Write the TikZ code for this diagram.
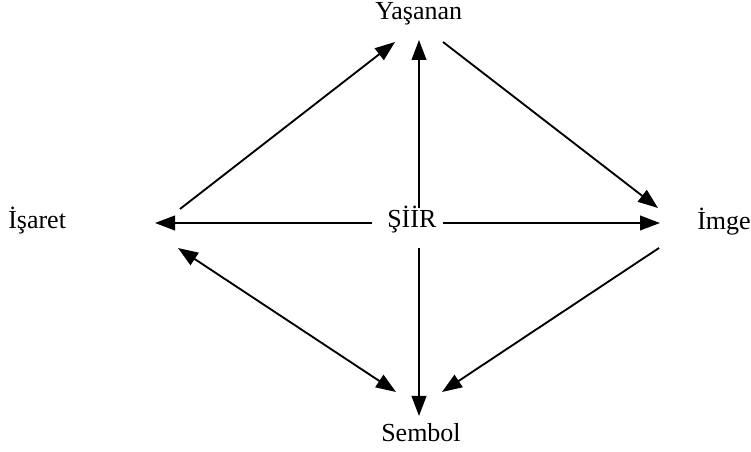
\documentclass[tikz,border=0pt]{standalone}
\usepackage{fontspec}
\setmainfont{Liberation Serif}
\usetikzlibrary{arrows.meta}
\begin{document}
\begin{tikzpicture}[x=0.75pt,y=-0.75pt,
  lbl/.style={anchor=base west,inner sep=0pt,font=\fontsize{19.5}{22}\selectfont},
  conn/.style={line width=1.4pt,-{Triangle[length=15pt,width=11pt]}},
  dconn/.style={line width=1.4pt,{Triangle[length=15pt,width=11pt]}-{Triangle[length=15pt,width=11pt]}}]
\useasboundingbox (0,0) rectangle (751,452);
% labels
\node[lbl] (yas) at (375,20) {Yaşanan};
\node[lbl] (isa) at (8,229) {İşaret};
\node[lbl] (siir) at (387,228) {ŞİİR};
\node[lbl] (imge) at (697,230) {İmge};
\node[lbl] (sem) at (381,442) {Sembol};
% arrow end points
\coordinate (a1s) at (180,209); \coordinate (a1e) at (395,42);
\coordinate (a2s) at (419,208); \coordinate (a2e) at (419,40);
\coordinate (a3s) at (443,42);  \coordinate (a3e) at (658,208);
\coordinate (a4s) at (443,223); \coordinate (a4e) at (660,223);
\coordinate (a5s) at (372,223); \coordinate (a5e) at (155,223);
\coordinate (a6s) at (659,248); \coordinate (a6e) at (442,392);
\coordinate (a7s) at (419,248); \coordinate (a7e) at (419,416);
\coordinate (a8s) at (178,248); \coordinate (a8e) at (396,392);
% connectors
\draw[conn] (a1s) -- (a1e);
\draw[conn] (a2s) -- (a2e);
\draw[conn] (a3s) -- (a3e);
\draw[conn] (a4s) -- (a4e);
\draw[conn] (a5s) -- (a5e);
\draw[conn] (a6s) -- (a6e);
\draw[conn] (a7s) -- (a7e);
\draw[dconn] (a8s) -- (a8e);
\end{tikzpicture}
\end{document}
